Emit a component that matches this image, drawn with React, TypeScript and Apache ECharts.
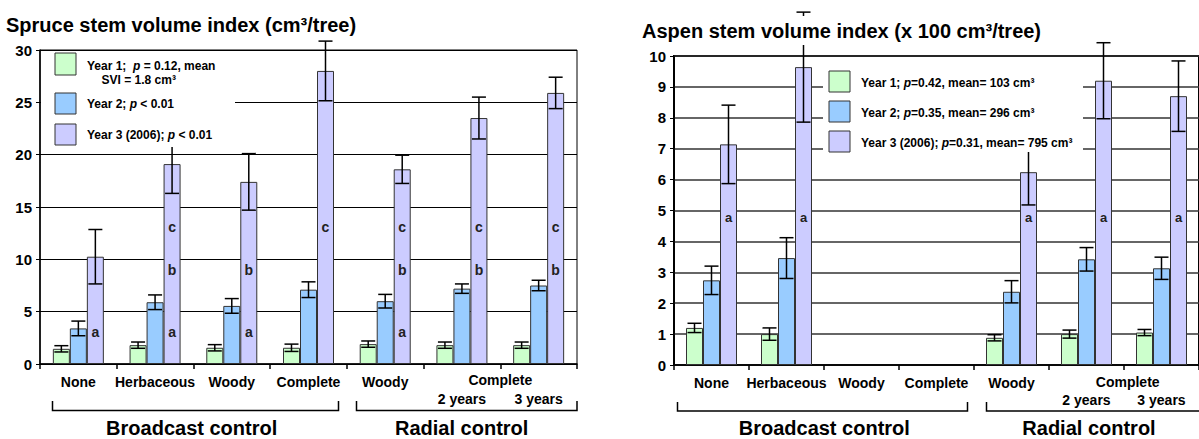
import React, { useEffect, useRef } from "react";
import * as echarts from "echarts";

const FONT = "Liberation Sans, Arial, Helvetica, sans-serif";

const categories = ["None", "Herbaceous", "Woody", "Complete", "Woody", "2 years", "3 years"];

// Spruce stem volume index (cm3/tree)
const spruceY1 = [1.45, 1.8, 1.55, 1.55, 1.9, 1.8, 1.8];
const spruceY1Err = [0.3, 0.3, 0.3, 0.35, 0.3, 0.3, 0.3];
const spruceY2 = [3.4, 5.9, 5.55, 7.1, 6.0, 7.2, 7.5];
const spruceY2Err = [0.7, 0.7, 0.7, 0.75, 0.65, 0.45, 0.5];
const spruceY3 = [10.25, 19.1, 17.4, 28.0, 18.6, 23.5, 25.9];
const spruceY3Err = [2.6, 2.8, 2.7, 2.85, 1.35, 2.0, 1.5];
const spruceLetters = ["a", "abc", "ab", "c", "abc", "bc", "bc"];
const spruceLetterLevel: Record<string, number> = { a: 3.1, b: 9.0, c: 13.1 };

// Aspen stem volume index (x 100 cm3/tree)
const aspenY1 = [1.2, 1.0, null, null, 0.88, 1.0, 1.05];
const aspenY1Err = [0.15, 0.2, null, null, 0.1, 0.13, 0.1];
const aspenY2 = [2.74, 3.46, null, null, 2.37, 3.42, 3.13];
const aspenY2Err = [0.46, 0.66, null, null, 0.36, 0.38, 0.36];
const aspenY3 = [7.14, 9.64, null, null, 6.24, 9.2, 8.7];
const aspenY3Err = [1.27, 1.78, null, null, 1.06, 1.23, 1.14];
const aspenLetters = ["a", "a", "", "", "a", "a", "a"];
const aspenLetterLevel: Record<string, number> = { a: 4.78 };

const colors = ["#CCFFCC", "#99CCFF", "#CCCCFF"];
const BAR_W = 17;

function barSeries(idx: number, data: (number | null)[], color: string) {
  return {
    type: "bar",
    xAxisIndex: idx,
    yAxisIndex: idx,
    data: data.map((v) => (v == null ? "-" : v)),
    barWidth: BAR_W,
    barGap: "0%",
    itemStyle: { color, borderColor: "#333", borderWidth: 1 },
    z: 2,
  };
}

function errSeries(idx: number, means: (number | null)[][], errs: (number | null)[][], lw: number) {
  const data: number[][] = [];
  means.forEach((arr, s) =>
    arr.forEach((m, c) => {
      if (m != null) data.push([c, m, errs[s][c] as number, s]);
    })
  );
  return {
    type: "custom",
    xAxisIndex: idx,
    yAxisIndex: idx,
    clip: false,
    z: 5,
    data,
    encode: { x: 0, y: 1 },
    renderItem: (_p: any, api: any) => {
      const c = api.value(0);
      const m = api.value(1);
      const e = api.value(2);
      const s = api.value(3);
      const top = api.coord([c, m + e]);
      const bot = api.coord([c, m - e]);
      const x = top[0] + (s - 1) * BAR_W;
      const cap = 7;
      const st = { stroke: "#000", lineWidth: lw };
      return {
        type: "group",
        children: [
          { type: "line", shape: { x1: x, y1: top[1], x2: x, y2: bot[1] }, style: st },
          { type: "line", shape: { x1: x - cap, y1: top[1], x2: x + cap, y2: top[1] }, style: st },
          { type: "line", shape: { x1: x - cap, y1: bot[1], x2: x + cap, y2: bot[1] }, style: st },
        ],
      };
    },
  };
}

function letterSeries(idx: number, letters: string[], levels: Record<string, number>, size: number) {
  const data: number[][] = [];
  const texts: string[] = [];
  letters.forEach((str, c) => {
    str.split("").forEach((L) => {
      data.push([c, levels[L]]);
      texts.push(L);
    });
  });
  return {
    type: "custom",
    xAxisIndex: idx,
    yAxisIndex: idx,
    z: 6,
    data,
    encode: { x: 0, y: 1 },
    renderItem: (p: any, api: any) => {
      const pt = api.coord([api.value(0), api.value(1)]);
      return {
        type: "text",
        x: pt[0] + BAR_W,
        y: pt[1],
        style: {
          text: texts[p.dataIndex],
          fontSize: size,
          fontWeight: "bold",
          fontFamily: FONT,
          fill: "#222",
          align: "center",
          verticalAlign: "middle",
        },
      };
    },
  };
}

function txt(x: number, y: number, text: string, size: number, align = "center") {
  return {
    type: "text",
    x,
    y,
    z: 20,
    style: {
      text,
      fontSize: size,
      fontWeight: "bold",
      fontFamily: FONT,
      fill: "#000",
      align,
      verticalAlign: "middle",
      rich: {
        i: { fontSize: size, fontWeight: "bold", fontStyle: "italic", fontFamily: FONT, fill: "#000" },
      },
    },
  };
}

function box(x: number, y: number, w: number, h: number, fill: string, stroke?: string) {
  return {
    type: "rect",
    z: 15,
    shape: { x, y, width: w, height: h },
    style: { fill, stroke: stroke || null, lineWidth: stroke ? 1 : 0 },
  };
}

function bracket(x1: number, x2: number, yTop: number, yBot: number) {
  return {
    type: "polyline",
    z: 20,
    shape: { points: [[x1, yTop], [x1, yBot], [x2, yBot], [x2, yTop]] },
    style: { stroke: "#000", lineWidth: 1.5, fill: null },
  };
}

export default function App() {
  const ref = useRef<HTMLDivElement>(null);
  useEffect(() => {
    document.body.style.margin = "0";
    const chart = echarts.init(ref.current!, null, { renderer: "svg" });
    const xAxisCommon = {
      type: "category",
      data: categories,
      axisLine: { show: true, lineStyle: { color: "#000", width: 1.5 } },
      axisTick: { show: true, length: 5, lineStyle: { color: "#000", width: 1.5 } },
      axisLabel: {
        interval: 0,
        fontSize: 14,
        fontWeight: "bold",
        fontFamily: FONT,
        color: "#000",
        margin: 9,
        lineHeight: 17,
        formatter: (v: string, i: number) => (i >= 5 ? "\n" + v : v),
      },
      splitLine: { show: false },
    };
    const option: any = {
      animation: false,
      textStyle: { fontFamily: FONT },
      title: [
        {
          text: "Spruce stem volume index (cm³/tree)",
          left: 6,
          top: 15,
          padding: 0,
          z: 20,
          textStyle: { fontSize: 20, fontWeight: "bold", color: "#000", fontFamily: FONT },
        },
        {
          text: "Aspen stem volume index (x 100 cm³/tree)",
          left: 638,
          top: 16,
          padding: [5, 4, 4, 4],
          backgroundColor: "#fff",
          z: 20,
          textStyle: { fontSize: 20, fontWeight: "bold", color: "#000", fontFamily: FONT },
        },
      ],
      grid: [
        { left: 40, right: 622, top: 50, bottom: 75, show: true, borderColor: "#000", borderWidth: 1, backgroundColor: "transparent" },
        { left: 674, right: -5, top: 56, bottom: 74, show: true, borderColor: "#000", borderWidth: 2, backgroundColor: "transparent" },
      ],
      xAxis: [
        { ...xAxisCommon, gridIndex: 0 },
        { ...xAxisCommon, gridIndex: 1 },
      ],
      yAxis: [
        {
          type: "value",
          gridIndex: 0,
          min: 0,
          max: 30,
          interval: 5,
          axisLine: { show: true, lineStyle: { color: "#000", width: 1.5 } },
          axisTick: { show: true, length: 4, lineStyle: { color: "#000" } },
          axisLabel: { fontSize: 15, fontWeight: "bold", color: "#000", margin: 8, fontFamily: FONT },
          splitLine: { lineStyle: { color: "#000", width: 1 } },
        },
        {
          type: "value",
          gridIndex: 1,
          min: 0,
          max: 10,
          interval: 1,
          axisLine: { show: true, lineStyle: { color: "#000", width: 1.5 } },
          axisTick: { show: true, length: 4, lineStyle: { color: "#000" } },
          axisLabel: { fontSize: 15, fontWeight: "bold", color: "#000", margin: 8, fontFamily: FONT },
          splitLine: { lineStyle: { color: "#333", width: 1.5 } },
        },
      ],
      series: [
        barSeries(0, spruceY1, colors[0]),
        barSeries(0, spruceY2, colors[1]),
        barSeries(0, spruceY3, colors[2]),
        errSeries(0, [spruceY1, spruceY2, spruceY3], [spruceY1Err, spruceY2Err, spruceY3Err], 1.5),
        letterSeries(0, spruceLetters, spruceLetterLevel, 14),
        barSeries(1, aspenY1, colors[0]),
        barSeries(1, aspenY2, colors[1]),
        barSeries(1, aspenY3, colors[2]),
        errSeries(1, [aspenY1, aspenY2, aspenY3], [aspenY1Err, aspenY2Err, aspenY3Err], 1.5),
        letterSeries(1, aspenLetters, aspenLetterLevel, 13),
      ],
      graphic: [
        // left legend
        box(41, 51, 194, 96, "#fff"),
        box(55, 53, 21, 22, colors[0], "#333"),
        box(55, 93, 21, 21, colors[1], "#333"),
        box(55, 124, 21, 21, colors[2], "#333"),
        txt(87, 66, "Year 1;  {i|p} = 0.12, mean", 12, "left"),
        txt(101.5, 80, "SVI = 1.8 cm³", 12, "left"),
        txt(87, 104, "Year 2; {i|p} < 0.01", 12, "left"),
        txt(87, 135, "Year 3 (2006); {i|p} < 0.01", 12, "left"),
        // right legend
        box(823, 60, 260, 92, "#fff"),
        box(829, 71, 21, 21, colors[0], "#333"),
        box(829, 101, 21, 21, colors[1], "#333"),
        box(829, 131, 21, 21, colors[2], "#333"),
        txt(861, 82.5, "Year 1; {i|p}=0.42, mean= 103 cm³", 12, "left"),
        txt(861, 112.5, "Year 2; {i|p}=0.35, mean= 296 cm³", 12, "left"),
        txt(861, 142.5, "Year 3 (2006); {i|p}=0.31, mean= 795 cm³", 12, "left"),
        // group labels on x axes
        txt(500.3, 380, "Complete", 14),
        txt(1127.7, 381.5, "Complete", 14),
        // brackets
        bracket(52.5, 338.5, 401, 410.5),
        bracket(356.5, 577, 401, 410.5),
        bracket(677.5, 967.5, 402, 411),
        bracket(986.5, 1212, 402, 411),
        txt(191.7, 428, "Broadcast control", 20),
        txt(461.7, 428, "Radial control", 20),
        txt(824.3, 428, "Broadcast control", 20),
        txt(1089, 428, "Radial control", 20),
      ],
    };
    chart.setOption(option);
    return () => chart.dispose();
  }, []);
  return <div ref={ref} style={{ position: "absolute", left: 0, top: 0, width: 1199, height: 439 }} />;
}
